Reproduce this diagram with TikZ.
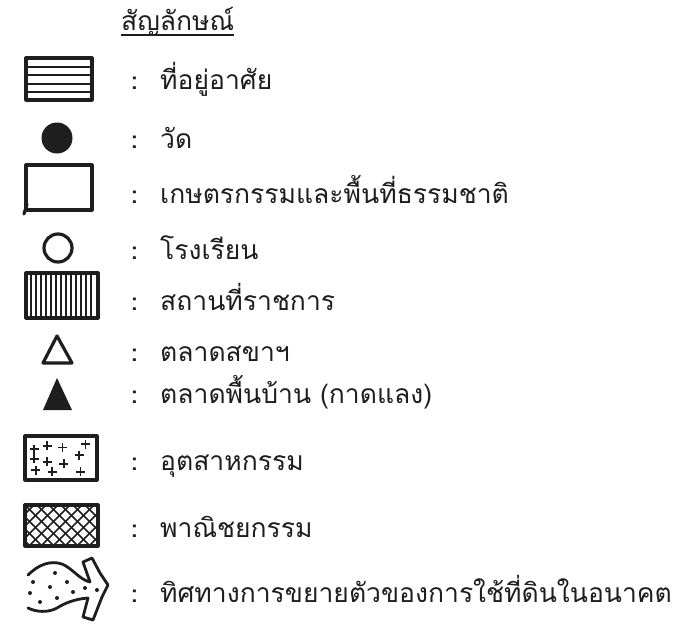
\documentclass[tikz,border=0pt]{standalone}
\usepackage{fontspec}
\newfontfamily\thai[Script=Thai]{Loma}
\definecolor{ink}{HTML}{1E1E1E}
\begin{document}
\begin{tikzpicture}[x=1pt,y=-1pt,
  sym/.style={line width=3.2pt, draw=ink, line join=round, line cap=round},
  hatch/.style={line width=1.6pt, draw=ink},
  lbl/.style={anchor=base west, inner sep=0pt, font=\thai\fontsize{26.5}{26.5}\selectfont, text=ink},
  colon/.style={anchor=base west, inner sep=0pt, font=\thai\bfseries\fontsize{24}{24}\selectfont, text=ink}]
\useasboundingbox[fill=white] (0,0) rectangle (686,624);

% title
\node[lbl] (title) at (121,30) {สัญลักษณ์};
\draw[ink, line width=1.5pt] ([yshift=-5pt]title.base west) -- ([yshift=-5pt]title.base east);

% 1 residential
\draw[sym] (26,58) rectangle (92,100);
\foreach \y in {67,75,84,92} \draw[hatch] (26,\y) -- (92,\y);
\node[colon] (c1) at (131,89) {:};
\node[lbl] (t1) at (160,89) {ที่อยู่อาศัย};

% 2 temple
\fill[ink] (57,138) circle (15.5);
\node[colon] (c2) at (131,148) {:};
\node[lbl] (t2) at (160,148) {วัด};

% 3 agriculture
\draw[sym] (26,165) rectangle (92,210);
\draw[sym] (24,214) -- (27,204);
\node[colon] (c3) at (131,203) {:};
\node[lbl] (t3) at (160,203) {เกษตรกรรมและพื้นที่ธรรมชาติ};

% 4 school
\draw[sym] (58,248) circle (14);
\node[colon] (c4) at (131,259) {:};
\node[lbl] (t4) at (160,259) {โรงเรียน};

% 5 government
\draw[sym] (26,273) rectangle (98,318);
\foreach \x in {31,36,...,94} \draw[hatch] (\x,273) -- (\x,318);
\node[colon] (c5) at (131,310) {:};
\node[lbl] (t5) at (160,310) {สถานที่ราชการ};

% 6 market
\draw[sym] (57,336) -- (72,363) -- (43,363) -- cycle;
\node[colon] (c6) at (131,361) {:};
\node[lbl] (t6) at (160,361) {ตลาดสขาฯ};

% 7 local market
\fill[ink] (57,378) -- (72,410) -- (43,410) -- cycle;
\node[colon] (c7) at (131,403) {:};
\node[lbl] (t7) at (160,403) {ตลาดพื้นบ้าน (กาดแลง)};

% 8 industry
\draw[sym] (25,436) rectangle (97,480);
\foreach \u/\v in {0.13/0.30,0.31/0.22,0.52/0.26,0.84/0.19,0.13/0.52,0.31/0.59,0.54/0.63,0.75/0.44,0.15/0.78,0.38/0.81,0.77/0.81}
  \draw[ink, line width=1.8pt] ({25+72*\u-4.5},{436+44*\v}) -- ++(9,0) ({25+72*\u},{436+44*\v-4.5}) -- ++(0,9);
\node[colon] (c8) at (131,470) {:};
\node[lbl] (t8) at (160,470) {อุตสาหกรรม};

% 9 commerce
\begin{scope}
\clip (25,505) rectangle (98,546);
\foreach \k in {-60,-48,...,110} {
  \draw[hatch] (25+\k,505) -- ++(45,45);
  \draw[hatch] (25+\k,550) -- ++(45,-45);
}
\end{scope}
\draw[sym] (25,505) rectangle (98,546);
\node[colon] (c9) at (131,537) {:};
\node[lbl] (t9) at (160,537) {พาณิชยกรรม};

% 10 expansion arrow
\draw[sym, line width=2.8pt] (28,575) .. controls (38,565) and (50,560) .. (62,564)
  .. controls (72,568) and (80,580) .. (90,582)
  -- (83,562) -- (92,558) -- (100,573) -- (108,585) -- (102,597) -- (93,620) -- (83,617) -- (88,598)
  .. controls (75,599) and (65,603) .. (57,608)
  .. controls (48,613) and (36,612) .. (28,608);
\foreach \p in {(55,573),(33,582),(50,587),(67,582),(30,593),(73,592),(85,588),(40,602),(57,598),(97,590)}
  \fill[ink] \p circle (2);
\node[colon] (c10) at (131,602) {:};
\node[lbl] (t10) at (160,602) {ทิศทางการขยายตัวของการใช้ที่ดินในอนาคต};
\end{tikzpicture}
\end{document}
